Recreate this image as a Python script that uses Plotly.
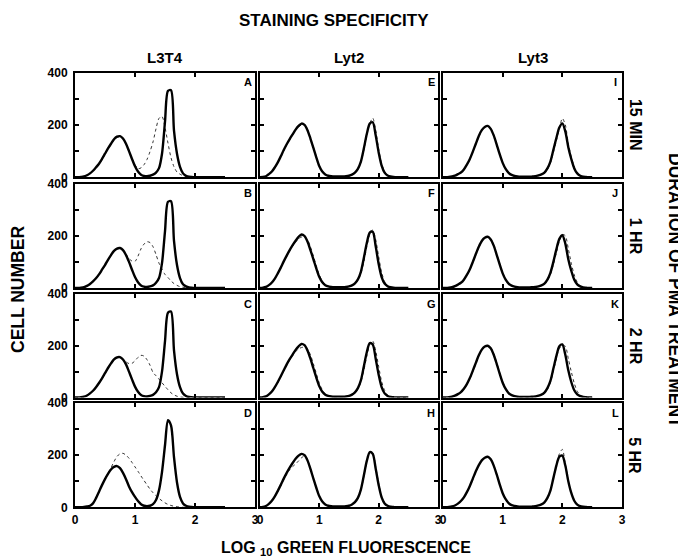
import plotly.graph_objects as go

W, H = 686, 560
PAGE_OFFSET = 8  # default body margin of the written HTML page

# log10 fluorescence channels (bin centres)
X = [0.00, 0.05, 0.10, 0.15, 0.20, 0.25, 0.30, 0.35, 0.40, 0.45,
     0.50, 0.55, 0.60, 0.65, 0.70, 0.75, 0.80, 0.85, 0.90, 0.95,
     1.00, 1.05, 1.10, 1.15, 1.20, 1.25, 1.30, 1.35, 1.40, 1.45,
     1.50, 1.55, 1.60, 1.65, 1.70, 1.75, 1.80, 1.85, 1.90, 1.95,
     2.00, 2.05, 2.10, 2.15, 2.20, 2.25, 2.30, 2.35, 2.40, 2.45,
     2.50]

COL_TITLES = ["L3T4", "Lyt2", "Lyt3"]
ROW_TITLES = ["15 MIN", "1 HR", "2 HR", "5 HR"]
PANEL_LETTERS = [["A", "E", "I"], ["B", "F", "J"], ["C", "G", "K"], ["D", "H", "L"]]
X_TICKS = [0, 1, 2, 3]
Y_TICKS = [0, 100, 200, 300, 400]
Y_TICK_TEXT = ["0", "", "200", "", "400"]

# ---- L3T4 ----
A_solid = [0, 0, 1, 3, 8, 15, 25, 38, 52, 70,
           90, 110, 128, 145, 155, 157, 148, 128, 100, 70,
           42, 22, 10, 5, 4, 6, 10, 18, 35, 90,
           212, 330, 332, 178, 90, 40, 15, 6, 2, 1,
           0, 0, 0, 0, 0, 0, 0, 0, 0, 0, 0]
A_dotted = [0, 0, 1, 3, 7, 14, 24, 36, 50, 68,
            88, 108, 126, 142, 152, 154, 146, 126, 100, 72,
            48, 33, 36, 48, 68, 98, 135, 185, 225, 232,
            190, 130, 75, 40, 20, 12, 6, 3, 1, 0,
            0, 0, 0, 0, 0, 0, 0, 0, 0, 0, 0]
B_solid = [0, 0, 1, 3, 8, 15, 25, 37, 52, 70,
           88, 108, 126, 142, 151, 153, 145, 126, 100, 70,
           42, 22, 10, 5, 4, 6, 10, 20, 38, 95,
           217, 330, 332, 180, 88, 38, 14, 6, 2, 1,
           0, 0, 0, 0, 0, 0, 0, 0, 0, 0, 0]
B_dotted = [0, 0, 1, 3, 7, 14, 24, 36, 50, 68,
            87, 106, 124, 140, 149, 151, 143, 128, 113, 103,
            102, 122, 150, 168, 177, 174, 158, 128, 95, 72,
            52, 40, 27, 17, 10, 5, 3, 1, 0, 0,
            0, 0, 0, 0, 0, 0, 0, 0, 0, 0, 0]
C_solid = [0, 0, 1, 3, 8, 16, 26, 40, 56, 74,
           94, 114, 132, 147, 155, 156, 147, 128, 100, 70,
           42, 22, 10, 5, 4, 6, 10, 20, 40, 100,
           217, 328, 332, 182, 90, 40, 15, 6, 2, 1,
           0, 0, 0, 0, 0, 0, 0, 0, 0, 0, 0]
C_dotted = [0, 0, 1, 3, 7, 15, 25, 38, 54, 72,
            92, 112, 130, 145, 153, 155, 148, 138, 131, 132,
            142, 155, 163, 160, 146, 125, 97, 84, 71, 57,
            43, 30, 18, 10, 5, 2, 1, 0, 0, 0,
            0, 0, 0, 0, 0, 0, 0, 0, 0, 0, 0]
D_solid = [0, 0, 0, 1, 3, 6, 15, 35, 60, 85,
           108, 128, 145, 155, 158, 150, 132, 108, 80, 58,
           40, 24, 12, 6, 4, 6, 12, 28, 65, 135,
           238, 334, 314, 192, 95, 40, 15, 6, 2, 1,
           0, 0, 0, 0, 0, 0, 0, 0, 0, 0, 0]
D_dotted = [0, 0, 0, 1, 3, 6, 15, 35, 60, 86,
            110, 132, 152, 175, 195, 205, 207, 200, 188, 172,
            155, 138, 120, 103, 86, 70, 56, 44, 34, 25,
            17, 11, 7, 4, 2, 1, 0, 0, 0, 0,
            0, 0, 0, 0, 0, 0, 0, 0, 0, 0, 0]

# ---- Lyt2 ----
E_solid = [0, 1, 4, 12, 22, 38, 57, 80, 104, 126,
           146, 164, 182, 196, 205, 200, 180, 148, 112, 75,
           42, 22, 11, 6, 4, 3, 3, 3, 3, 4,
           6, 10, 18, 32, 60, 110, 165, 205, 210, 160,
           95, 45, 18, 7, 3, 1, 0, 0, 0, 0, 0]
E_dotted = [0, 1, 4, 11, 21, 36, 55, 78, 101, 123,
            143, 161, 179, 192, 200, 198, 182, 150, 114, 78,
            44, 23, 11, 6, 4, 3, 3, 3, 3, 4,
            6, 10, 17, 30, 56, 104, 160, 205, 226, 180,
            108, 52, 22, 8, 3, 1, 0, 0, 0, 0, 0]
F_solid = [0, 1, 4, 11, 21, 36, 56, 78, 102, 124,
           145, 164, 181, 196, 205, 199, 178, 145, 110, 74,
           42, 22, 11, 6, 4, 3, 3, 3, 3, 4,
           6, 10, 18, 33, 62, 115, 172, 212, 215, 160,
           92, 42, 17, 7, 3, 1, 0, 0, 0, 0, 0]
F_dotted = [0, 1, 4, 11, 20, 35, 54, 76, 99, 121,
            142, 160, 175, 188, 195, 196, 185, 158, 122, 85,
            50, 27, 13, 7, 4, 3, 3, 3, 3, 4,
            6, 9, 16, 30, 56, 100, 158, 205, 222, 185,
            120, 60, 25, 9, 3, 1, 0, 0, 0, 0, 0]
G_solid = [0, 1, 4, 12, 23, 40, 60, 82, 105, 128,
           148, 166, 184, 198, 207, 202, 182, 150, 113, 76,
           43, 22, 11, 6, 4, 3, 3, 3, 3, 4,
           6, 11, 20, 36, 66, 120, 175, 210, 205, 150,
           88, 40, 16, 6, 2, 1, 0, 0, 0, 0, 0]
G_dotted = [0, 1, 4, 11, 22, 38, 57, 79, 102, 124,
            144, 162, 177, 188, 193, 195, 188, 165, 130, 92,
            55, 30, 14, 7, 4, 3, 3, 3, 3, 4,
            6, 10, 18, 33, 60, 105, 160, 205, 218, 180,
            120, 62, 28, 10, 3, 1, 0, 0, 0, 0, 0]
H_solid = [0, 1, 5, 13, 25, 42, 63, 86, 110, 132,
           152, 170, 186, 198, 205, 200, 180, 147, 110, 74,
           42, 22, 11, 6, 4, 3, 3, 3, 3, 4,
           6, 11, 20, 36, 68, 122, 178, 212, 205, 148,
           85, 38, 15, 6, 2, 1, 0, 0, 0, 0, 0]
H_dotted = [0, 1, 5, 12, 24, 40, 60, 82, 106, 126,
            144, 156, 166, 178, 190, 196, 184, 150, 112, 76,
            43, 22, 11, 6, 4, 3, 3, 3, 3, 4,
            6, 11, 19, 34, 64, 118, 175, 210, 208, 155,
            92, 42, 17, 7, 2, 1, 0, 0, 0, 0, 0]

# ---- Lyt3 ----
I_solid = [0, 0, 1, 3, 6, 12, 18, 30, 48, 70,
           98, 128, 158, 180, 192, 196, 185, 160, 125, 88,
           55, 32, 17, 9, 5, 3, 2, 2, 2, 2,
           3, 4, 7, 11, 18, 34, 60, 105, 150, 190,
           206, 175, 115, 70, 34, 15, 6, 2, 1, 0, 0]
I_dotted = [0, 0, 1, 3, 6, 11, 18, 29, 47, 69,
            96, 126, 155, 178, 190, 195, 186, 162, 127, 90,
            57, 33, 18, 9, 5, 3, 2, 2, 2, 2,
            3, 4, 6, 10, 16, 30, 55, 95, 140, 185,
            225, 200, 130, 78, 40, 16, 6, 2, 1, 0, 0]
J_solid = [0, 0, 1, 3, 7, 13, 20, 32, 50, 72,
           100, 130, 158, 180, 192, 196, 186, 162, 127, 90,
           56, 32, 17, 9, 5, 3, 2, 2, 2, 2,
           3, 4, 6, 10, 17, 32, 58, 100, 148, 188,
           202, 170, 110, 66, 32, 14, 6, 2, 1, 0, 0]
J_dotted = [0, 0, 1, 3, 7, 12, 19, 31, 49, 71,
            98, 127, 155, 177, 190, 195, 188, 165, 130, 93,
            58, 34, 18, 9, 5, 3, 2, 2, 2, 2,
            3, 4, 5, 9, 15, 28, 52, 90, 135, 178,
            205, 200, 150, 95, 50, 22, 8, 3, 1, 0, 0]
K_solid = [0, 0, 1, 3, 7, 13, 21, 34, 52, 75,
           104, 134, 163, 185, 197, 200, 190, 165, 130, 92,
           57, 33, 17, 9, 5, 3, 2, 2, 2, 2,
           3, 4, 7, 11, 19, 36, 64, 112, 160, 198,
           205, 165, 105, 60, 28, 12, 5, 2, 1, 0, 0]
K_dotted = [0, 0, 1, 3, 7, 12, 20, 33, 50, 73,
            101, 131, 160, 182, 195, 199, 192, 170, 135, 96,
            60, 35, 18, 9, 5, 3, 2, 2, 2, 2,
            3, 4, 6, 10, 17, 32, 58, 102, 150, 190,
            200, 198, 150, 100, 55, 24, 9, 3, 1, 0, 0]
L_solid = [0, 0, 1, 3, 7, 14, 24, 38, 58, 82,
           110, 138, 162, 180, 190, 194, 184, 160, 126, 88,
           54, 31, 16, 8, 5, 3, 2, 2, 2, 2,
           3, 4, 7, 11, 19, 36, 64, 112, 160, 194,
           198, 160, 100, 55, 25, 10, 4, 2, 1, 0, 0]
L_dotted = [0, 0, 1, 3, 7, 13, 23, 37, 56, 80,
            108, 136, 160, 178, 188, 193, 185, 162, 128, 90,
            56, 32, 17, 8, 5, 3, 2, 2, 2, 2,
            3, 4, 7, 11, 19, 35, 62, 110, 162, 205,
            222, 165, 102, 56, 26, 11, 4, 2, 1, 0, 0]

SOLID = {"A": A_solid, "B": B_solid, "C": C_solid, "D": D_solid,
         "E": E_solid, "F": F_solid, "G": G_solid, "H": H_solid,
         "I": I_solid, "J": J_solid, "K": K_solid, "L": L_solid}
DOTTED = {"A": A_dotted, "B": B_dotted, "C": C_dotted, "D": D_dotted,
          "E": E_dotted, "F": F_dotted, "G": G_dotted, "H": H_dotted,
          "I": I_dotted, "J": J_dotted, "K": K_dotted, "L": L_dotted}

# ---- layout geometry (pixels, in screen coordinates) ----
COL_PX = [(75, 255), (260, 438), (443, 622)]
ROW_PX = [(72.5, 177.3), (183.5, 288), (294, 397.5), (403, 507.3)]

FONT = "Liberation Sans, Arial, Helvetica, sans-serif"


def fx(px):
    return (px - PAGE_OFFSET) / W


def fy(py):
    return 1 - (py - PAGE_OFFSET) / H


fig = go.Figure()
layout_axes = {}
annotations = []

for r in range(4):
    for c in range(3):
        n = r * 3 + c + 1
        sfx = "" if n == 1 else str(n)
        letter = PANEL_LETTERS[r][c]
        x0, x1 = COL_PX[c]
        y0, y1 = ROW_PX[r]

        fig.add_trace(go.Scatter(
            x=X, y=DOTTED[letter], mode="lines",
            line=dict(color="#333333", width=1.0, dash="dot", shape="spline", smoothing=0.8),
            xaxis="x" + sfx, yaxis="y" + sfx, showlegend=False, hoverinfo="skip"))
        fig.add_trace(go.Scatter(
            x=X, y=SOLID[letter], mode="lines",
            line=dict(color="black", width=2.4, shape="spline", smoothing=0.8),
            xaxis="x" + sfx, yaxis="y" + sfx, showlegend=False, hoverinfo="skip"))

        layout_axes["xaxis" + sfx] = dict(
            domain=[fx(x0), fx(x1)], range=[0, 3], anchor="y" + sfx,
            showline=True, linewidth=2, linecolor="black", mirror="allticks",
            ticks="inside", ticklen=4, tickwidth=1.5, tickcolor="black",
            tickvals=X_TICKS, showgrid=False, zeroline=False, automargin=False,
            showticklabels=(r == 3),
            tickfont=dict(family=FONT, size=12, color="black", weight="bold"),
            fixedrange=True)
        layout_axes["yaxis" + sfx] = dict(
            domain=[fy(y1), fy(y0)], range=[0, 400], anchor="x" + sfx,
            showline=True, linewidth=2, linecolor="black", mirror="allticks",
            ticks="inside", ticklen=4, tickwidth=1.5, tickcolor="black",
            tickvals=Y_TICKS, ticktext=Y_TICK_TEXT, showgrid=False, zeroline=False,
            automargin=False, showticklabels=(c == 0), ticklabelstandoff=3,
            tickfont=dict(family=FONT, size=12, color="black", weight="bold"),
            fixedrange=True)

        annotations.append(dict(
            text=letter, x=fx(x1 - 7), y=fy(y0 + 9.5), xref="paper", yref="paper",
            xanchor="center", yanchor="middle", showarrow=False,
            font=dict(family=FONT, size=11, color="black", weight="bold")))

# column titles
for c, t in enumerate(COL_TITLES):
    x0, x1 = COL_PX[c]
    annotations.append(dict(
        text=t, x=fx((x0 + x1) / 2), y=fy(57), xref="paper", yref="paper",
        xanchor="center", yanchor="middle", showarrow=False,
        font=dict(family=FONT, size=15, color="black", weight="bold")))

# row titles
for r, t in enumerate(ROW_TITLES):
    y0, y1 = ROW_PX[r]
    annotations.append(dict(
        text=t, x=fx(635), y=fy((y0 + y1) / 2), xref="paper", yref="paper",
        xanchor="center", yanchor="middle", showarrow=False, textangle=90,
        font=dict(family=FONT, size=16, color="black", weight="bold")))

annotations += [
    dict(text="STAINING SPECIFICITY", x=fx(334), y=fy(20), xref="paper", yref="paper",
         xanchor="center", yanchor="middle", showarrow=False,
         font=dict(family=FONT, size=17, color="black", weight="bold")),
    dict(text="DURATION OF PMA TREATMENT", x=fx(675), y=fy(290), xref="paper", yref="paper",
         xanchor="center", yanchor="middle", showarrow=False, textangle=90,
         font=dict(family=FONT, size=17.5, color="black", weight="bold")),
    dict(text="CELL NUMBER", x=fx(18), y=fy(290), xref="paper", yref="paper",
         xanchor="center", yanchor="middle", showarrow=False, textangle=-90,
         font=dict(family=FONT, size=17.5, color="black", weight="bold")),
    dict(text="LOG <sub>10</sub> GREEN FLUORESCENCE", x=fx(346), y=fy(548), xref="paper", yref="paper",
         xanchor="center", yanchor="middle", showarrow=False,
         font=dict(family=FONT, size=16, color="black", weight="bold")),
]

fig.update_layout(
    template="none",
    width=W, height=H, autosize=False,
    margin=dict(l=0, r=0, t=0, b=0, pad=0, autoexpand=False),
    paper_bgcolor="white", plot_bgcolor="white",
    showlegend=False, annotations=annotations,
    **layout_axes)

fig.write_html("out.html")
